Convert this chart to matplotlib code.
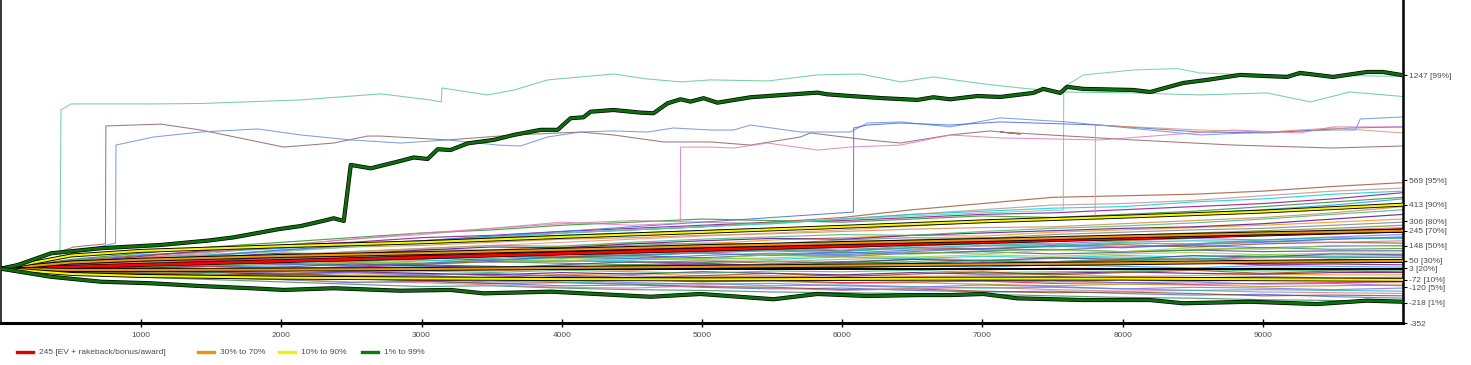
import matplotlib
matplotlib.use('Agg')
import matplotlib.pyplot as plt
import matplotlib.patheffects as pe
from matplotlib.lines import Line2D

plt.rcParams['font.family'] = 'Liberation Sans'

# x grid for the sample paths (hands played)
steps = list(range(0, 10001, 500))

# ordinary sample paths, values every 500 hands
paths = [
    [0, -30, -55, -70, -85, -100, -115, -110, -125, -135, -140, -150, -155, -160, -165, -175, -185, -190, -200, -205, -210],
    [0, -25, -40, -60, -70, -90, -80, -95, -110, -105, -120, -130, -125, -140, -150, -145, -160, -170, -165, -180, -190],
    [0, -15, -35, -50, -65, -60, -80, -95, -90, -100, -115, -120, -135, -130, -145, -155, -150, -160, -175, -170, -175],
    [0, -35, -50, -45, -70, -85, -90, -105, -120, -125, -110, -125, -140, -130, -120, -135, -145, -140, -150, -155, -160],
    [0, -10, -30, -55, -50, -65, -80, -70, -85, -100, -95, -110, -105, -115, -125, -120, -130, -140, -135, -140, -145],
    [0, -20, -15, -35, -55, -50, -70, -85, -75, -90, -100, -95, -110, -120, -105, -115, -130, -120, -125, -135, -125],
    [0, -5, -25, -20, -40, -55, -45, -60, -75, -70, -85, -80, -95, -90, -100, -110, -100, -105, -115, -110, -105],
    [0, -25, -30, -50, -45, -60, -75, -65, -55, -70, -80, -75, -90, -85, -80, -95, -90, -100, -95, -90, -85],
    [0, -15, -25, -40, -35, -50, -45, -60, -70, -55, -65, -75, -70, -60, -75, -85, -70, -80, -75, -65, -70],
    [0, -10, -20, -15, -30, -45, -40, -35, -50, -60, -55, -45, -60, -70, -55, -50, -65, -60, -50, -60, -55],
    [0, 5, -10, -25, -20, -35, -30, -45, -40, -30, -45, -55, -40, -50, -45, -35, -50, -45, -35, -40, -40],
    [0, -20, -10, -25, -35, -20, -30, -40, -25, -35, -20, -30, -40, -25, -35, -30, -20, -30, -35, -25, -25],
    [0, 10, -5, -15, -5, -20, -15, -25, -10, -20, -30, -15, -20, -10, -25, -20, -15, -5, -15, -10, -10],
    [0, -5, 10, 0, -10, 5, -5, -15, 0, -10, 5, -5, 10, 0, -10, 5, 0, -5, 5, 0, 0],
    [0, 15, 5, 20, 10, 0, 15, 5, 20, 10, 25, 15, 5, 20, 10, 25, 15, 5, 20, 15, 10],
    [0, -10, 5, 15, 0, 10, 25, 15, 5, 20, 30, 20, 10, 25, 35, 20, 30, 40, 25, 30, 25],
    [0, 20, 10, 25, 35, 20, 30, 45, 35, 25, 40, 50, 35, 45, 30, 40, 55, 45, 35, 45, 40],
    [0, 5, 25, 15, 30, 40, 30, 45, 55, 40, 50, 35, 45, 60, 50, 40, 55, 65, 50, 60, 55],
    [0, 25, 15, 35, 25, 45, 55, 40, 50, 65, 55, 45, 60, 70, 55, 65, 75, 60, 70, 80, 70],
    [0, 10, 30, 20, 40, 30, 50, 60, 45, 55, 70, 60, 75, 65, 80, 70, 85, 75, 90, 80, 85],
    [0, 30, 20, 40, 55, 45, 35, 55, 65, 75, 60, 70, 85, 75, 90, 80, 95, 105, 90, 100, 100],
    [0, 15, 35, 50, 40, 60, 70, 55, 75, 85, 70, 90, 80, 100, 110, 95, 105, 120, 110, 115, 115],
    [0, -5, 20, 35, 55, 45, 65, 80, 70, 90, 100, 85, 105, 95, 115, 125, 110, 120, 135, 125, 130],
    [0, 20, 40, 30, 50, 70, 60, 80, 95, 85, 105, 115, 100, 120, 130, 120, 140, 150, 135, 145, 150],
    [0, 35, 25, 50, 65, 55, 80, 90, 75, 100, 110, 125, 115, 135, 125, 145, 155, 140, 160, 170, 165],
    [0, 10, 30, 55, 45, 70, 85, 75, 95, 110, 100, 120, 135, 125, 145, 155, 140, 160, 175, 170, 180],
    [0, 25, 45, 40, 65, 80, 70, 95, 110, 100, 125, 135, 120, 145, 160, 150, 170, 180, 175, 190, 200],
    [0, 40, 30, 55, 75, 65, 90, 100, 115, 105, 130, 145, 135, 155, 170, 160, 180, 195, 185, 205, 220],
    [0, 20, 45, 65, 55, 80, 100, 90, 115, 130, 120, 145, 160, 150, 175, 185, 180, 200, 215, 225, 240],
    [0, 30, 55, 50, 75, 95, 85, 110, 125, 140, 130, 155, 170, 160, 185, 200, 195, 215, 230, 245, 260],
    [0, 45, 40, 65, 85, 80, 105, 120, 115, 140, 155, 150, 175, 185, 200, 195, 215, 230, 245, 260, 280],
    [0, 25, 50, 75, 70, 95, 115, 110, 135, 150, 165, 160, 185, 200, 195, 220, 235, 250, 260, 280, 300],
    [0, 35, 65, 60, 85, 105, 125, 120, 145, 165, 160, 185, 200, 215, 210, 235, 250, 265, 280, 300, 320],
    [0, 50, 45, 75, 100, 95, 120, 140, 135, 160, 180, 195, 190, 215, 230, 245, 260, 270, 290, 320, 350],
    [0, 30, 60, 85, 80, 110, 130, 150, 145, 170, 190, 205, 220, 215, 240, 260, 275, 295, 320, 350, 380],
    [0, 45, 75, 90, 115, 140, 150, 170, 190, 200, 215, 225, 240, 255, 265, 270, 290, 310, 330, 360, 400],
    [0, 55, 90, 110, 130, 160, 175, 200, 215, 230, 245, 260, 270, 290, 300, 320, 335, 355, 380, 410, 450],
    [0, 40, 80, 120, 150, 170, 200, 215, 240, 260, 280, 300, 310, 330, 350, 360, 380, 400, 420, 450, 490],
    [0, 60, 100, 140, 170, 200, 230, 250, 280, 300, 320, 310, 300, 320, 340, 330, 350, 370, 400, 430, 460],
    [0, 50, 85, 110, 140, 160, 180, 200, 230, 250, 270, 300, 330, 380, 420, 460, 470, 480, 500, 530, 555],
    [0, 30, 70, 100, 150, 190, 220, 260, 290, 310, 300, 290, 320, 350, 380, 410, 420, 440, 470, 500, 520],
    [0, 20, 60, 90, 120, 150, 180, 210, 230, 250, 270, 290, 320, 350, 370, 390, 400, 430, 450, 480, 500],
    [0, -15, 10, 30, 20, 45, 35, 60, 50, 75, 65, 90, 80, 105, 95, 120, 110, 135, 125, 150, 145],
    [0, 25, 5, -10, 10, 30, 20, 5, 25, 45, 35, 20, 40, 60, 50, 70, 60, 85, 75, 95, 90],
    [0, -20, -35, -25, -5, -20, 0, 15, 5, 25, 10, 30, 45, 35, 55, 45, 65, 60, 80, 70, 75],
    [0, 10, 25, 45, 30, 15, 35, 55, 75, 65, 85, 100, 90, 110, 130, 145, 135, 155, 170, 190, 205],
    [0, -10, -30, -45, -30, -50, -65, -55, -40, -60, -45, -30, -50, -35, -20, -40, -25, -10, -30, -15, -20],
    [0, 20, 45, 35, 60, 80, 95, 85, 110, 125, 140, 135, 160, 175, 170, 195, 210, 205, 230, 250, 265],
    [0, 35, 20, 40, 60, 50, 75, 65, 90, 80, 105, 120, 110, 135, 150, 140, 165, 160, 185, 200, 195],
    [0, -5, -20, -10, -30, -25, -40, -30, -50, -45, -60, -55, -70, -60, -80, -75, -90, -85, -100, -95, -110],
]
path_colors = ['#2e8b57', '#4169e1', '#8b4513', '#db7093', '#20b2aa', '#7b68ee', '#b8860b', '#dc143c',
               '#6b8e23', '#708090', '#ff8c00', '#4b0082', '#3cb371', '#cd853f', '#1e90ff', '#8b008b',
               '#228b22', '#a0522d', '#bc8f8f', '#00ced1', '#9acd32', '#483d8b']

# paths with a big tournament win (vertical jump)
tealA_x = [0, 420, 428, 500, 1070, 1430, 2140, 2710, 3060, 3140, 3145, 3470, 3660, 3900, 4130, 4370, 4610,
           4850, 5060, 5470, 5820, 6130, 6420, 6650, 7010, 7270, 7580, 8080, 8550, 9030, 9340, 9620, 10000]
tealA_y = [0, 30, 1023, 1062, 1062, 1065, 1088, 1127, 1088, 1075, 1165, 1120, 1152, 1217, 1236, 1255, 1223,
           1204, 1217, 1210, 1249, 1255, 1204, 1236, 1191, 1165, 1139, 1133, 1120, 1133, 1075, 1139, 1110]
tealB_x = [0, 1000, 2000, 3000, 4000, 5000, 6000, 7000, 7577, 7580, 7720, 8080, 8390, 8550, 8910, 9500, 10000]
tealB_y = [0, 60, 110, 170, 230, 270, 320, 360, 378, 1171, 1249, 1281, 1290, 1262, 1249, 1245, 1240]
brown_x = [0, 250, 520, 745, 748, 1140, 1425, 2017, 2373, 2616, 2708, 3186, 3656, 4134, 4369, 4726, 5061,
           5346, 5702, 5773, 6180, 6415, 6771, 7056, 7270, 7128, 8076, 8788, 9501, 10000]
brown_y = [0, 60, 140, 160, 920, 932, 894, 784, 810, 855, 855, 830, 862, 881, 862, 817, 817,
           797, 849, 875, 830, 810, 862, 888, 868, 881, 830, 797, 778, 791]
blue1_x = [0, 300, 600, 817, 820, 1090, 1425, 1832, 2138, 2495, 2851, 3186, 3542, 3706, 3899, 4134, 4369,
           4611, 4797, 5061, 5225, 5346, 5702, 6058, 6180, 6415, 6771, 7128, 7605, 8553, 9031, 9501, 9660,
           9695, 10000]
blue1_y = [0, 50, 120, 165, 797, 849, 881, 901, 862, 830, 810, 830, 797, 791, 849, 881, 888,
           881, 907, 894, 894, 926, 881, 881, 939, 946, 914, 972, 946, 862, 881, 894, 894,
           965, 978]
blue2_x = [0, 1000, 2000, 3000, 4000, 5000, 6080, 6082, 6180, 6415, 6771, 7128, 7840, 8553, 9031, 9622, 10000]
blue2_y = [0, 50, 120, 180, 240, 300, 365, 907, 926, 939, 926, 946, 926, 881, 875, 907, 914]
pink_x = [0, 500, 1000, 1500, 2000, 2500, 3000, 3500, 4000, 4500, 4845, 4847, 5061, 5225, 5467, 5823, 6058,
          6415, 6771, 7128, 7840, 8790, 9266, 9501, 10000]
pink_y = [0, 30, 70, 110, 150, 190, 230, 260, 300, 280, 293, 784, 784, 778, 810, 765, 784,
          797, 862, 843, 830, 894, 875, 914, 914]
salmon_x = [0, 1000, 2000, 3000, 4000, 5000, 6000, 7000, 7805, 7806, 8076, 8553, 9031, 9501, 10000]
salmon_y = [0, 40, 90, 130, 170, 210, 250, 300, 335, 926, 914, 894, 881, 907, 875]

# percentile bands and EV
band_x = [0, 500, 1000, 2000, 3000, 4000, 5000, 6000, 7000, 8000, 9000, 10000]
p90 = [0, 85, 115, 145, 170, 205, 237, 270, 305, 335, 368, 413]
p70 = [0, 40, 58, 82, 100, 122, 145, 165, 185, 208, 228, 245]
p30 = [0, -8, -8, -6, -2, 5, 12, 20, 28, 35, 45, 50]
p10 = [0, -34, -47, -58, -63, -67, -69, -66, -64, -64, -68, -72]
ev_x = [0, 10000]
ev_y = [0, 245]

p99_x = [0, 121, 356, 713, 1140, 1475, 1661, 1974, 2138, 2302, 2373, 2445, 2495, 2637, 2830, 2944, 3043,
         3115, 3207, 3329, 3514, 3656, 3849, 3970, 4063, 4155, 4205, 4369, 4562, 4654, 4754, 4847, 4918,
         5011, 5110, 5346, 5581, 5823, 5894, 6058, 6294, 6536, 6650, 6771, 6964, 7128, 7363, 7434, 7555,
         7605, 7719, 8076, 8197, 8432, 8603, 8838, 9173, 9266, 9501, 9743, 9857, 10000]
p99_y = [0, 24, 99, 132, 153, 181, 202, 254, 275, 309, 325, 308, 669, 647, 690, 717, 707,
         770, 765, 808, 830, 862, 895, 895, 970, 976, 1012, 1023, 1006, 1002, 1066, 1092, 1077,
         1099, 1070, 1105, 1120, 1135, 1124, 1113, 1099, 1088, 1105, 1092, 1113, 1107, 1133, 1159, 1133,
         1172, 1159, 1152, 1139, 1197, 1217, 1249, 1236, 1262, 1236, 1268, 1268, 1247]
p1_x = [0, 356, 713, 1069, 1425, 1782, 2017, 2373, 2851, 3207, 3443, 3920, 4633, 4989, 5510, 5823, 6180,
        6536, 6771, 7006, 7249, 7719, 8197, 8432, 8909, 9387, 9743, 10000]
p1_y = [0, -52, -84, -94, -112, -126, -137, -126, -142, -137, -159, -148, -181, -163, -197, -163, -176,
        -170, -170, -163, -191, -202, -202, -223, -213, -228, -206, -213]

ytick_vals = [-352, -218, -120, -72, 3, 50, 148, 245, 306, 413, 569, 1247]
ytick_text = ['-352', '-218 [1%]', '-120 [5%]', '-72 [10%]', '3 [20%]', '50 [30%]', '148 [50%]',
              '245 [70%]', '306 [80%]', '413 [90%]', '569 [95%]', '1247 [99%]']
xtick_vals = [1000, 2000, 3000, 4000, 5000, 6000, 7000, 8000, 9000]

legend_labels = ['245 [EV + rakeback/bonus/award]', '30% to 70%', '10% to 90%', '1% to 99%']
legend_colors = ['#e00000', '#e8960a', '#f0f000', '#0d7a0d']

W, H = 1471, 365
fig = plt.figure(figsize=(W / 100, H / 100), dpi=100)
ax = fig.add_axes([1 / W, (H - 323.3) / H, 1402 / W, 323.3 / H])

for i, p in enumerate(paths):
    ax.plot(steps, p, color=path_colors[i % len(path_colors)], lw=0.85, alpha=0.8, zorder=1)

jump_lines = [(tealA_x, tealA_y, '#5cc79c'), (tealB_x, tealB_y, '#66cdaa'), (brown_x, brown_y, '#8c6262'),
              (blue1_x, blue1_y, '#6a8ee0'), (blue2_x, blue2_y, '#4a6ad8'), (pink_x, pink_y, '#e07ac0'),
              (salmon_x, salmon_y, '#e8906a')]
for xs, ys, c in jump_lines:
    ax.plot(xs, ys, color=c, lw=0.75, alpha=0.85, zorder=1)

# zero line
ax.axhline(0, color='black', lw=1.4, zorder=3)

outline = lambda w: [pe.Stroke(linewidth=w, foreground='black'), pe.Normal()]
ax.plot(ev_x, ev_y, color='#ff0000', lw=1.9, zorder=4, path_effects=outline(2.8))
for band in (p70, p30):
    ax.plot(band_x, band, color='#e8960a', lw=1.5, zorder=5, path_effects=outline(2.8))
for band in (p90, p10):
    ax.plot(band_x, band, color='#f5f500', lw=1.5, zorder=5, path_effects=outline(2.8))
for xs, ys in ((p99_x, p99_y), (p1_x, p1_y)):
    ax.plot(xs, ys, color='#0d6e0d', lw=2, zorder=6, path_effects=outline(3))

ax.set_xlim(0, 10000)
ax.set_ylim(-352, 1732)
ax.spines['top'].set_visible(False)
ax.spines['left'].set_linewidth(1.1)
ax.spines['bottom'].set_linewidth(2.2)
ax.spines['right'].set_linewidth(1.8)

ax.set_xticks(xtick_vals)
ax.set_xticklabels([str(v) for v in xtick_vals])
ax.tick_params(axis='x', direction='inout', length=6, width=1, pad=3, labelsize=6, labelcolor='#4d4d4d')
ax.yaxis.tick_right()
ax.set_yticks(ytick_vals)
ax.set_yticklabels(ytick_text)
ax.tick_params(axis='y', direction='out', length=3, width=0.8, pad=1.5, labelsize=6, labelcolor='#4d4d4d')

# legend drawn in pixel positions along the bottom
legend_x = [17, 198, 279, 362]
for lx, lab, c in zip(legend_x, legend_labels, legend_colors):
    fig.add_artist(Line2D([lx / W, (lx + 16) / W], [0.035, 0.035], color=c, lw=2.4, transform=fig.transFigure))
    fig.text((lx + 22) / W, 0.035, lab, fontsize=6, color='#4d4d4d', va='center', ha='left')

fig.savefig('out.png', dpi=100)
